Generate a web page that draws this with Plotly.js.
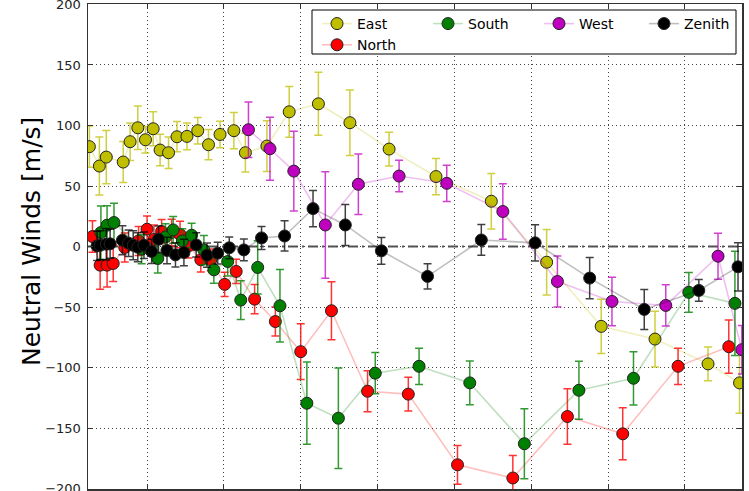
<!DOCTYPE html>
<html>
<head>
<meta charset="utf-8">
<script src="https://cdn.plot.ly/plotly-3.0.1.min.js"></script>
<style>html,body{margin:0;padding:0;background:#fff;}#chart{width:749px;height:491px;}</style>
</head>
<body>
<div id="chart"></div>
<script>
// ---- data (x in hours on an axis with gridlines every hour; labels are cropped in the reference) ----
const eastX   = [0.25,0.38,0.47,0.69,0.78,0.88,0.98,1.08,1.17,1.28,1.39,1.52,1.66,1.80,1.95,2.13,2.28,2.56,2.85,3.23,3.64,4.15,4.76,5.48,6.20,6.91,7.61,8.30,8.71];
const eastY   = [82.5,66.5,73.9,69.8,86.6,98.1,88.2,97.3,79.7,77.5,90.7,91,95.7,84.1,92.6,95.7,77.5,83,111.3,117.9,102.3,80.5,57.8,37.4,-13,-66,-76.5,-97,-112.7];
const eastErr = [17,24,22,17,15.5,18,11,14,13,13,12.5,11,11,12.5,11,15,16,21,21,26,27,14,15,23,27,22.5,23,14,25];

const northX   = [0.29,0.39,0.48,0.56,0.71,0.89,1.00,1.09,1.19,1.32,1.43,1.54,1.70,1.83,2.01,2.16,2.40,2.67,3.00,3.40,3.87,4.40,5.04,5.76,6.47,7.19,7.91,8.57];
const northY   = [8.2,-15.4,-15.4,-14,-0.8,4.6,14.3,5.8,12.4,11.5,9.9,0.5,-11,-11,-31.3,-20.6,-43.5,-62,-86.9,-53.1,-119.6,-122,-180.4,-191.3,-140.5,-154.8,-99,-82.8];
const northErr = [13,20,18,15,12,12,11,12,10,11,11,10,10,9,10,10,12,12,23,24,17,14,16,18.5,23,21.5,15,22];

const southX   = [0.40,0.48,0.57,0.93,1.14,1.24,1.34,1.46,1.58,1.74,1.87,2.05,2.22,2.44,2.73,3.08,3.49,3.97,4.54,5.20,5.91,6.62,7.33,8.05,8.65];
const southY   = [11.5,17.6,19.8,-2.2,-9.9,7.9,13.7,4.6,9.3,-3,-19.3,-12.4,-44.3,-17.3,-49,-129.5,-141.9,-104.7,-99,-112.7,-163,-118.8,-108.9,-37.9,-47];
const southErr = [22,16,16,12,12,11,11,10,10,12,11,12,16,22,30,34,41.5,17,15,18,29,24,22,16.5,43];

const westX   = [2.32,2.60,2.91,3.32,3.75,4.28,4.90,5.63,6.34,7.05,7.75,8.43,8.74];
const westY   = [96.5,80.8,62.3,17.8,51.4,58.2,52.2,28.9,-28.9,-45.4,-48.7,-8,-85.3];
const westErr = [23,26,33,44,25,13,15,23,21,20,17,19,20];

const zenithX   = [0.35,0.39,0.47,0.52,0.68,0.76,0.82,0.88,0.96,1.06,1.15,1.26,1.37,1.48,1.64,1.78,1.92,2.07,2.26,2.49,2.79,3.16,3.58,4.05,4.65,5.35,6.05,6.76,7.47,8.18,8.69];
const zenithY   = [0.5,1,1.9,2.2,5.2,2.7,1,-0.6,1,-4.1,6,-3.3,-6.9,-5,1.3,-7.2,-5.5,-1.1,-2.8,7.1,8.7,31.3,17.8,-3.6,-24.7,5.4,3,-26.1,-52,-36.3,-16.8];
const zenithErr = [12,12,13,12,12,11,12,12,11,10,11,11,10,11,10,10,9,9,9,9.5,12.5,15,17,11,10.5,12.7,15,17,16.5,9,20];

const seriesNames = ['East','North','South','West','Zenith'];
const yTicks = [-200,-150,-100,-50,0,50,100,150,200];
const yTickText = ['\u2212200','\u2212150','\u2212100','\u221250','0','50','100','150','200'];
const yTitle = 'Neutral Winds [m/s]';

// ---- styling ----
const font = 'DejaVu Sans, Bitstream Vera Sans, sans-serif';
function mk(name, x, y, err, color, lineRGBA, errRGBA, legendId) {
  return {
    type: 'scatter', mode: 'lines+markers', name: name, x: x, y: y,
    legend: legendId,
    line: {color: lineRGBA, width: 1.6},
    marker: {color: color, size: 12, line: {color: '#222', width: 1}},
    error_y: {type: 'data', array: err, visible: true, color: errRGBA, thickness: 1.5, width: 4},
    cliponaxis: true
  };
}
const traces = [
  mk(seriesNames[0], eastX, eastY, eastErr, '#bfbf00', 'rgba(191,191,0,0.25)', 'rgba(191,191,0,0.75)', 'legend'),
  mk(seriesNames[1], northX, northY, northErr, '#ff0000', 'rgba(255,0,0,0.25)', 'rgba(255,0,0,0.8)', 'legend'),
  mk(seriesNames[2], southX, southY, southErr, '#008000', 'rgba(0,128,0,0.25)', 'rgba(0,128,0,0.8)', 'legend2'),
  mk(seriesNames[3], westX, westY, westErr, '#bf00bf', 'rgba(191,0,191,0.25)', 'rgba(191,0,191,0.75)', 'legend3'),
  mk(seriesNames[4], zenithX, zenithY, zenithErr, '#000000', 'rgba(0,0,0,0.25)', 'rgba(0,0,0,0.75)', 'legend4')
];

const PT = 4, PB = 2, PL = 88, PR = 7, W = 749, H = 491;
const pw = W - PL - PR, ph = H - PT - PB;
const px2x = p => (p - PL) / pw;
const py2y = p => (H - PB - p) / ph;

function leg(xpx) {
  return {x: px2x(xpx), y: py2y(8), xanchor: 'left', yanchor: 'top', orientation: 'v',
          bgcolor: 'rgba(0,0,0,0)', borderwidth: 0, font: {family: font, size: 14, color: '#000'},
          tracegroupgap: 0};
}

const layout = {
  width: W, height: H,
  margin: {l: PL, r: PR, t: PT, b: PB, pad: 0},
  paper_bgcolor: '#fff', plot_bgcolor: '#fff',
  showlegend: true,
  legend: leg(317), legend2: leg(428), legend3: leg(539), legend4: leg(644),
  xaxis: {
    range: [0.232, 8.742], tick0: 0, dtick: 1, showticklabels: false,
    ticks: 'inside', ticklen: 5, tickcolor: '#333', tickwidth: 1,
    showgrid: true, gridcolor: '#444', griddash: '1px,3px', gridwidth: 1,
    showline: true, linecolor: '#333', linewidth: 1.5, mirror: 'ticks', zeroline: false
  },
  yaxis: {
    range: [-200.4, 200.4], tickmode: 'array', tickvals: yTicks, ticktext: yTickText,
    ticks: 'inside', ticklen: 5, tickcolor: '#333', tickwidth: 1, ticklabelstandoff: 3,
    ticklabeloverflow: 'allow',
    tickfont: {family: font, size: 13, color: '#222'},
    showgrid: true, gridcolor: '#444', griddash: '1px,3px', gridwidth: 1,
    showline: true, linecolor: '#333', linewidth: 1.5, mirror: 'ticks', zeroline: false,
    automargin: false
  },
  annotations: [
    {text: yTitle, xref: 'paper', yref: 'paper', x: px2x(31), y: py2y(242), xanchor: 'center', yanchor: 'middle',
     textangle: -90, showarrow: false, font: {family: font, size: 25, color: '#000'}}
  ],
  shapes: [
    {type: 'line', xref: 'paper', yref: 'y', x0: 0, x1: 1, y0: 0, y1: 0, layer: 'between',
     line: {color: '#555', width: 2, dash: '10px,4px,2px,4px'}},
    {type: 'rect', xref: 'paper', yref: 'paper', x0: px2x(312), x1: px2x(736), y0: py2y(54), y1: py2y(10),
     layer: 'above', fillcolor: '#fff', line: {color: '#000', width: 1}}
  ]
};

Plotly.newPlot('chart', traces, layout, {staticPlot: true, displayModeBar: false});
</script>
</body>
</html>
